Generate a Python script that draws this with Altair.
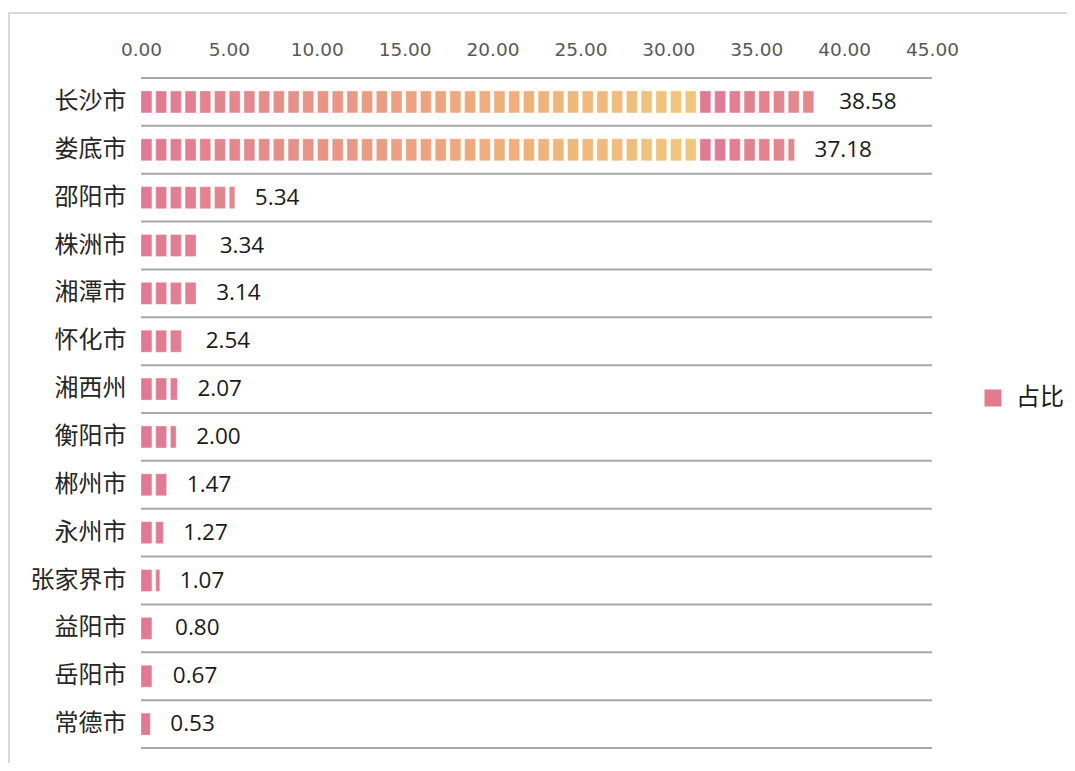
import altair as alt
import pandas as pd

# ---- data ----
cities = ["长沙市", "娄底市", "邵阳市", "株洲市", "湘潭市", "怀化市", "湘西州",
          "衡阳市", "郴州市", "永州市", "张家界市", "益阳市", "岳阳市", "常德市"]
values = [38.58, 37.18, 5.34, 3.34, 3.14, 2.54, 2.07, 2.00, 1.47, 1.27, 1.07, 0.80, 0.67, 0.53]
series_name = "占比"
x_ticks = [0, 5, 10, 15, 20, 25, 30, 35, 40, 45]

# ---- style constants (stacked "picture" fill of the bars) ----
CYCLE = 31.8          # the fill picture repeats after this many units
ICONS = 38            # icons per picture
PERIOD = CYCLE / ICONS
SEG = 0.62            # icon width, data units
MIN_PIECE = 0.12
grad_domain = [0, 8, 16, 24, CYCLE]
grad_range = ["#df6e8b", "#e58682", "#ee9c76", "#f0b070", "#f0c372"]

df = pd.DataFrame({"city": cities, "value": values, "series": series_name})

# split every bar into its icon pieces (derived from the values)
rows = []
for c, v in zip(cities, values):
    base = 0.0
    while base < v:
        for k in range(ICONS):
            s = base + k * PERIOD
            if s >= v:
                break
            e = min(s + SEG, base + CYCLE, v)
            if e - s >= MIN_PIECE:
                rows.append({"city": c, "start": s, "end": e,
                             "phase": (s + e) / 2 - base})
        base += CYCLE
seg_df = pd.DataFrame(rows)

W, H = 791, 670

x_scale = alt.Scale(domain=[0, 45], nice=False, zero=True)
x_axis = alt.Axis(orient="top", values=x_ticks, format=".2f",
                  labelFont="DejaVu Sans", labelFontSize=18.5,
                  labelColor="#595959", labelPadding=19, labelFlush=False,
                  ticks=False, domain=False, grid=False)
y_scale = alt.Scale(paddingInner=0, paddingOuter=0)
y_axis = alt.Axis(labelFont="Noto Sans CJK SC", labelFontSize=24,
                  labelColor="#262626", labelPadding=15,
                  ticks=False, domain=False, grid=False)


def Y(**kw):
    return alt.Y("city:N", sort=cities, title=None, scale=y_scale, axis=y_axis, **kw)


segments = alt.Chart(seg_df).mark_bar(height=22, opacity=0.93,
                                      stroke="white", strokeOpacity=0.35,
                                      strokeWidth=1).encode(
    x=alt.X("start:Q", scale=x_scale, title=None, axis=x_axis),
    x2="end:Q",
    y=Y(),
    fill=alt.Fill("phase:Q", scale=alt.Scale(domain=grad_domain, range=grad_range),
                  legend=None),
)

sep_top = alt.Chart(df).mark_rule(color="#a8a8a8", strokeWidth=2).encode(
    y=Y(bandPosition=0),
)
sep_bottom = alt.Chart(df.tail(1)).mark_rule(color="#a8a8a8", strokeWidth=2).encode(
    y=Y(bandPosition=1),
)

labels = alt.Chart(df).mark_text(align="left", baseline="middle", dx=20,
                                 font="Open Sans", fontSize=22.5,
                                 color="#1a1a1a").encode(
    x=alt.X("value:Q", scale=x_scale, title=None, axis=x_axis),
    y=Y(),
    text=alt.Text("value:Q", format=".2f"),
)

legend_layer = alt.Chart(df).mark_square(size=0, opacity=0).encode(
    x=alt.X("value:Q", scale=x_scale, title=None, axis=x_axis),
    y=Y(),
    color=alt.Color("series:N", scale=alt.Scale(range=["#e27b8f"]),
                    legend=alt.Legend(title=None, orient="none",
                                      legendX=840, legendY=308,
                                      symbolType="square", symbolSize=289,
                                      symbolOpacity=1, symbolStrokeWidth=0,
                                      labelFont="Noto Sans CJK SC",
                                      labelFontSize=24, labelColor="#1a1a1a",
                                      labelOffset=11, padding=0)),
)

frame_df = pd.DataFrame({"k": [0]})
frame_top = alt.Chart(frame_df).mark_rule(color="#d9d9d9", strokeWidth=2).encode(
    x=alt.value(-133), x2=alt.value(940), y=alt.value(-65))
frame_left = alt.Chart(frame_df).mark_rule(color="#d9d9d9", strokeWidth=2).encode(
    x=alt.value(-132), y=alt.value(-65), y2=alt.value(700))

chart = alt.layer(frame_top, frame_left, segments, sep_top, sep_bottom,
                  labels, legend_layer).properties(
    width=W, height=H,
    background="white",
    autosize=alt.AutoSizeParams(type="none"),
    padding={"left": 133, "top": 70, "right": 135, "bottom": 15},
).configure_view(stroke=None)

chart.save("out.html", embed_options={"renderer": "svg", "actions": False})
